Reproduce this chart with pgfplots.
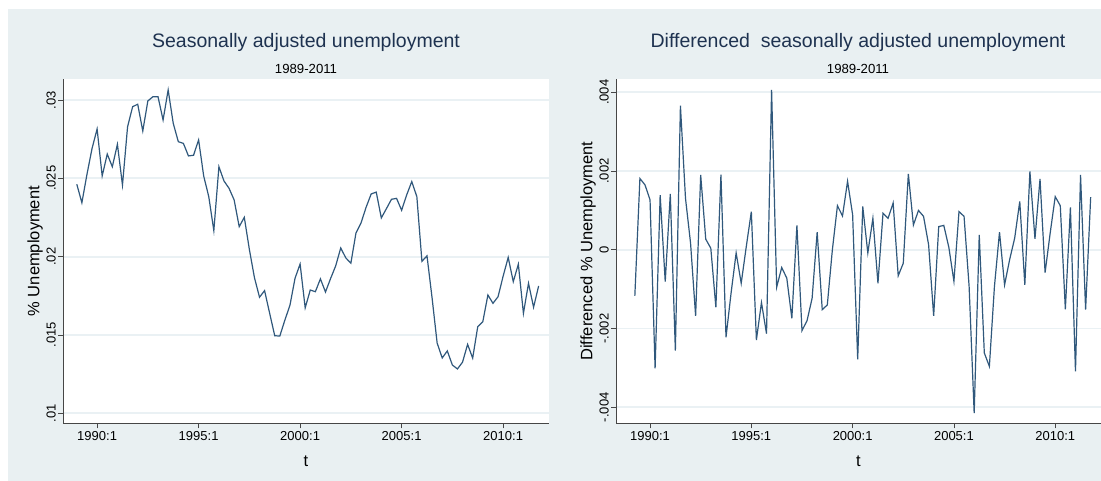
\documentclass[border=0pt]{standalone}
\usepackage{pgfplots}
\pgfplotsset{compat=1.18}
\usepackage{fontspec}
\setmainfont{Liberation Sans}
\usepackage{pgfplotstable}

\definecolor{panelbg}{RGB}{233,240,242}
\definecolor{gridc}{RGB}{234,241,244}
\definecolor{navyline}{RGB}{48,88,124}
\definecolor{titlec}{RGB}{30,50,80}
\definecolor{axisc}{RGB}{70,70,70}

% seasonally adjusted unemployment, quarterly 1989:1 - 2011:4
\pgfplotstableread{
t u
1989.00 0.02462
1989.25 0.02344
1989.50 0.02525
1989.75 0.02690
1990.00 0.02815
1990.25 0.02515
1990.50 0.02655
1990.75 0.02574
1991.00 0.02717
1991.25 0.02457
1991.50 0.02828
1991.75 0.02957
1992.00 0.02973
1992.25 0.02802
1992.50 0.02994
1992.75 0.03021
1993.00 0.03021
1993.25 0.02872
1993.50 0.03064
1993.75 0.02851
1994.00 0.02734
1994.25 0.02723
1994.50 0.02643
1994.75 0.02647
1995.00 0.02745
1995.25 0.02515
1995.50 0.02383
1995.75 0.02166
1996.00 0.02574
1996.25 0.02483
1996.50 0.02436
1996.75 0.02362
1997.00 0.02191
1997.25 0.02251
1997.50 0.02046
1997.75 0.01866
1998.00 0.01741
1998.25 0.01783
1998.50 0.01638
1998.75 0.01495
1999.00 0.01493
1999.25 0.01595
1999.50 0.01690
1999.75 0.01862
2000.00 0.01953
2000.25 0.01673
2000.50 0.01787
2000.75 0.01776
2001.00 0.01858
2001.25 0.01774
2001.50 0.01860
2001.75 0.01940
2002.00 0.02055
2002.25 0.01992
2002.50 0.01958
2002.75 0.02150
2003.00 0.02215
2003.25 0.02315
2003.50 0.02400
2003.75 0.02412
2004.00 0.02247
2004.25 0.02306
2004.50 0.02366
2004.75 0.02372
2005.00 0.02296
2005.25 0.02394
2005.50 0.02479
2005.75 0.02383
2006.00 0.01970
2006.25 0.02005
2006.50 0.01737
2006.75 0.01448
2007.00 0.01353
2007.25 0.01398
2007.50 0.01308
2007.75 0.01283
2008.00 0.01326
2008.25 0.01440
2008.50 0.01352
2008.75 0.01553
2009.00 0.01585
2009.25 0.01755
2009.50 0.01702
2009.75 0.01744
2010.00 0.01875
2010.25 0.01995
2010.50 0.01840
2010.75 0.01952
2011.00 0.01638
2011.25 0.01830
2011.50 0.01677
2011.75 0.01813
}\unemp

% differenced series, 1989:2 - 2011:4
\pgfplotstableread{
t d
1989.25 -0.00117
1989.50 0.00181
1989.75 0.00165
1990.00 0.00127
1990.25 -0.00301
1990.50 0.00139
1990.75 -0.00081
1991.00 0.00142
1991.25 -0.00256
1991.50 0.00366
1991.75 0.00131
1992.00 0.00017
1992.25 -0.00168
1992.50 0.00190
1992.75 0.00027
1993.00 0.00004
1993.25 -0.00146
1993.50 0.00191
1993.75 -0.00222
1994.00 -0.00110
1994.25 -0.00008
1994.50 -0.00085
1994.75 0.00008
1995.00 0.00097
1995.25 -0.00229
1995.50 -0.00134
1995.75 -0.00213
1996.00 0.00406
1996.25 -0.00095
1996.50 -0.00045
1996.75 -0.00072
1997.00 -0.00174
1997.25 0.00062
1997.50 -0.00205
1997.75 -0.00180
1998.00 -0.00123
1998.25 0.00045
1998.50 -0.00152
1998.75 -0.00140
1999.00 0.00000
1999.25 0.00112
1999.50 0.00086
1999.75 0.00174
2000.00 0.00089
2000.25 -0.00278
2000.50 0.00110
2000.75 -0.00008
2001.00 0.00080
2001.25 -0.00085
2001.50 0.00093
2001.75 0.00080
2002.00 0.00119
2002.25 -0.00066
2002.50 -0.00034
2002.75 0.00193
2003.00 0.00063
2003.25 0.00100
2003.50 0.00085
2003.75 0.00013
2004.00 -0.00168
2004.25 0.00059
2004.50 0.00062
2004.75 0.00006
2005.00 -0.00080
2005.25 0.00097
2005.50 0.00085
2005.75 -0.00093
2006.00 -0.00415
2006.25 0.00038
2006.50 -0.00262
2006.75 -0.00296
2007.00 -0.00093
2007.25 0.00045
2007.50 -0.00089
2007.75 -0.00025
2008.00 0.00030
2008.25 0.00123
2008.50 -0.00089
2008.75 0.00199
2009.00 0.00028
2009.25 0.00180
2009.50 -0.00058
2009.75 0.00042
2010.00 0.00135
2010.25 0.00112
2010.50 -0.00151
2010.75 0.00108
2011.00 -0.00309
2011.25 0.00190
2011.50 -0.00152
2011.75 0.00134
}\dunemp

\pgfplotsset{
  stata/.style={
    scale only axis,
    anchor=south west,
    height=344.3pt,
    xmin=1988.32, xmax=2012.26,
    axis x line*=bottom, axis y line*=left,
    axis line style={-, draw=axisc, line width=0.8pt},
    axis background/.style={fill=white},
    tick align=outside,
    major tick length=5pt,
    tick style={draw=axisc, line width=0.8pt},
    xtick={1990,1995,2000,2005,2010},
    xticklabels={1990:1,1995:1,2000:1,2005:1,2010:1},
    scaled y ticks=false,
    ymajorgrids,
    major grid style={draw=gridc, line width=1.8pt},
    /pgf/number format/assume math mode=true,
    tick label style={font=\fontsize{13}{13}\selectfont, text=black},
    yticklabel style={rotate=90, anchor=south, inner sep=2pt},
    xticklabel style={anchor=north, inner sep=3pt},
    label style={font=\fontsize{16.5}{16.5}\selectfont, text=black},
    xlabel={t},
    xlabel style={at={(axis description cs:0.5,-0.1095)}, anchor=center},
    ylabel style={anchor=center, rotate=0},
  },
}

\begin{document}
\begin{tikzpicture}
\path[use as bounding box, fill=white] (0pt,0pt) rectangle (1101pt,481pt);
\fill[panelbg] (8pt,0pt) rectangle (1101pt,472pt);

\begin{axis}[stata,
  at={(63pt,57.7pt)}, width=486pt,
  ymin=0.00936, ymax=0.03134,
  ytick={0.01,0.015,0.02,0.025,0.03},
  yticklabels={.01,.015,.02,.025,.03},
  ylabel={\% Unemployment},
  ylabel style={at={(axis description cs:-0.0576,0.5)}},
]
\addplot[navyline, line width=1.2pt] table[x=t, y=u] {\unemp};
\end{axis}

\begin{axis}[stata,
  at={(616pt,57.7pt)}, width=485pt,
  ymin=-0.004406, ymax=0.004338,
  ytick={-0.004,-0.002,0,0.002,0.004},
  yticklabels={-.004,-.002,0,.002,.004},
  ylabel={Differenced \% Unemployment},
  ylabel style={at={(axis description cs:-0.0577,0.5)}},
]
\addplot[navyline, line width=1.2pt] table[x=t, y=d] {\dunemp};
\end{axis}

\node[anchor=base, text=titlec, font=\fontsize{19.5}{19.5}\selectfont] at (306pt,433.3pt) {Seasonally adjusted unemployment};
\node[anchor=base, text=black, font=\fontsize{13.2}{13.2}\selectfont] at (306pt,407pt) {1989-2011};
\node[anchor=base, text=titlec, font=\fontsize{19.5}{19.5}\selectfont] at (858pt,433.3pt) {Differenced\ \ seasonally adjusted unemployment};
\node[anchor=base, text=black, font=\fontsize{13.2}{13.2}\selectfont] at (858pt,407pt) {1989-2011};
\end{tikzpicture}
\end{document}
